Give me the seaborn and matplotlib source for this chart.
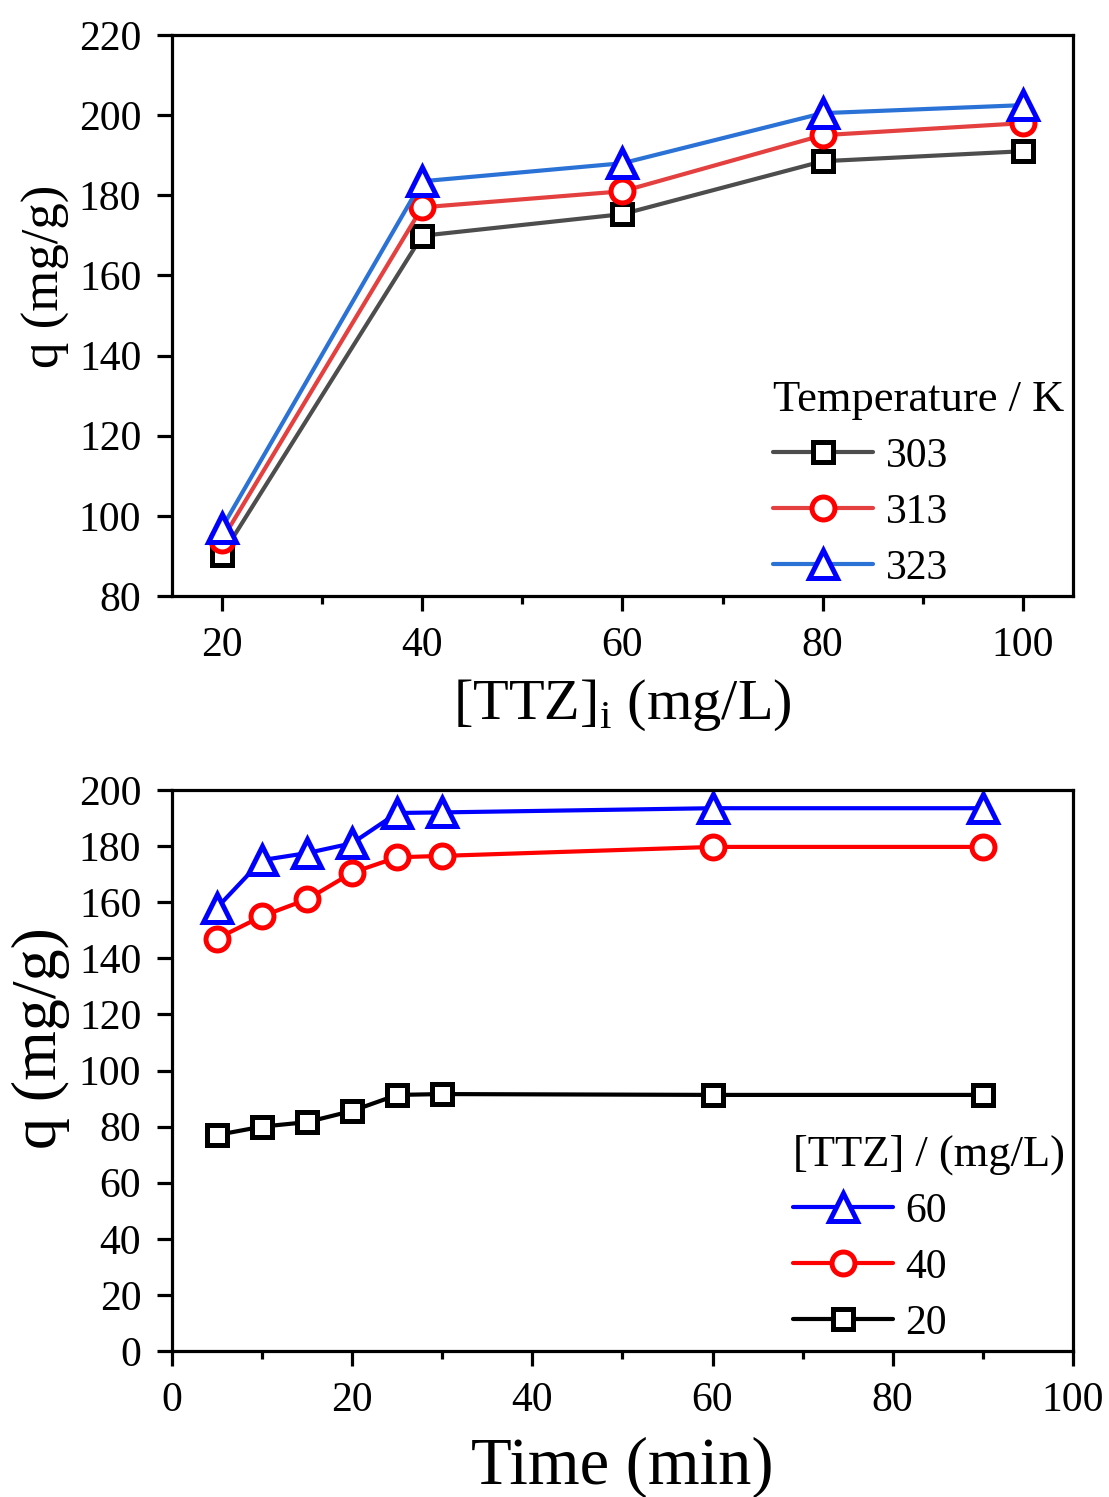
import matplotlib
matplotlib.use("Agg")
import matplotlib.pyplot as plt
import seaborn as sns
import pandas as pd
from matplotlib.ticker import MultipleLocator

sns.set_style("ticks")
plt.rcParams['font.family'] = ['Liberation Serif', 'DejaVu Serif']
plt.rcParams['mathtext.fontset'] = 'custom'
plt.rcParams['mathtext.rm'] = 'Liberation Serif'
plt.rcParams['text.color'] = 'black'
plt.rcParams['axes.labelcolor'] = 'black'
plt.rcParams['xtick.color'] = 'black'
plt.rcParams['ytick.color'] = 'black'

# Top panel data
conc = [20, 40, 60, 80, 100]
temps = ["303", "313", "323"]
q_303 = [90.2, 169.9, 175.3, 188.5, 191]
q_313 = [94, 177, 181, 195, 198]
q_323 = [97, 183.5, 188, 200.5, 202.5]

# Bottom panel data
time_min = [5, 10, 15, 20, 25, 30, 60, 90]
ttz_levels = ["60", "40", "20"]
q_60 = [158, 175, 177.5, 181, 191.8, 192, 193.5, 193.5]
q_40 = [147, 155, 161, 170.5, 176, 176.5, 179.7, 179.7]
q_20 = [77, 80, 81.6, 85.6, 91.3, 91.6, 91.3, 91.3]

fig = plt.figure(figsize=(11.09, 14.97), dpi=100)
ax1 = fig.add_axes([0.155, 0.6019, 0.8125, 0.3747])
ax2 = fig.add_axes([0.155, 0.0975, 0.8125, 0.3748])

msizes = {"s": 14.5, "o": 16.5, "^": 19.5}

top_df = pd.DataFrame({
    "x": conc * 3,
    "q": q_303 + q_313 + q_323,
    "T": [temps[0]] * 5 + [temps[1]] * 5 + [temps[2]] * 5,
})
line_cols1 = ["#4d4d4d", "#e3403f", "#2b72d6"]
edge_cols1 = ["black", "red", "blue"]
markers1 = ["s", "o", "^"]
for T, lc, ec, mk in zip(temps, line_cols1, edge_cols1, markers1):
    sub = top_df[top_df["T"] == T]
    sns.lineplot(data=sub, x="x", y="q", ax=ax1, color=lc, lw=3,
                 marker=mk, markersize=msizes[mk], markerfacecolor="white",
                 markeredgecolor=ec, markeredgewidth=3.6, label=T)

ax1.set_xlim(15, 105)
ax1.set_ylim(80, 220)
ax1.set_xticks(conc)
ax1.xaxis.set_minor_locator(MultipleLocator(10))
ax1.set_yticks(range(80, 221, 20))
ax1.set_xlabel(r"[TTZ]$_\mathrm{i}$ (mg/L)", fontsize=42, labelpad=9)
ax1.set_ylabel("q (mg/g)", fontsize=38)
ax1.yaxis.set_label_coords(-0.113, 0.569)
leg1 = ax1.legend(title="Temperature / K", loc="lower right", frameon=False,
                  fontsize=30, title_fontsize=32, handlelength=2.4,
                  borderaxespad=0.0, borderpad=0.2, labelspacing=0.42,
                  handletextpad=0.3)
leg1._legend_box.align = "left"

bot_df = pd.DataFrame({
    "t": time_min * 3,
    "q": q_60 + q_40 + q_20,
    "C": [ttz_levels[0]] * 8 + [ttz_levels[1]] * 8 + [ttz_levels[2]] * 8,
})
line_cols2 = ["blue", "red", "black"]
markers2 = ["^", "o", "s"]
for C, lc, mk in zip(ttz_levels, line_cols2, markers2):
    sub = bot_df[bot_df["C"] == C]
    sns.lineplot(data=sub, x="t", y="q", ax=ax2, color=lc, lw=3,
                 marker=mk, markersize=msizes[mk], markerfacecolor="white",
                 markeredgecolor=lc, markeredgewidth=3.6, label=C)

ax2.set_xlim(0, 100)
ax2.set_ylim(0, 200)
ax2.set_xticks(range(0, 101, 20))
ax2.xaxis.set_minor_locator(MultipleLocator(10))
ax2.set_yticks(range(0, 201, 20))
ax2.set_xlabel("Time (min)", fontsize=48, labelpad=12)
ax2.set_ylabel("q (mg/g)", fontsize=46)
ax2.yaxis.set_label_coords(-0.113, 0.558)
leg2 = ax2.legend(title="[TTZ] / (mg/L)", loc="lower right", frameon=False,
                  fontsize=30, title_fontsize=32, handlelength=2.4,
                  borderaxespad=0.0, borderpad=0.2, labelspacing=0.42,
                  handletextpad=0.3)
leg2._legend_box.align = "left"

for leg in (leg1, leg2):
    leg.get_title().set_color("black")
    for t in leg.get_texts():
        t.set_color("black")

for ax in (ax1, ax2):
    for s in ax.spines.values():
        s.set_linewidth(2.3)
        s.set_color("black")
    ax.tick_params(axis="both", which="major", labelsize=30, width=2.3,
                   length=11, pad=11, direction="out", colors="black")
    ax.tick_params(axis="x", which="minor", width=2.3, length=6, direction="out")

fig.savefig("out.png", dpi=100)
